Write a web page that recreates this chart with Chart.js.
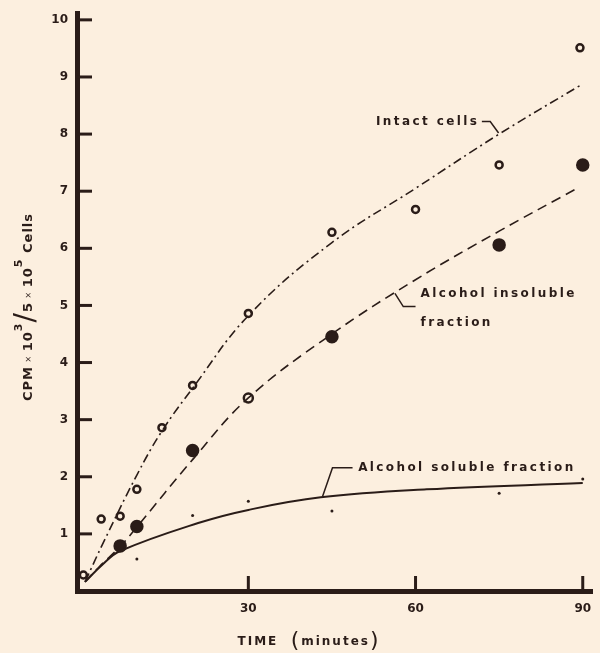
<!DOCTYPE html>
<html>
<head>
<meta charset="utf-8">
<script src="https://cdn.jsdelivr.net/npm/chart.js@4.4.1/dist/chart.umd.min.js"></script>
<style>
  html, body { margin: 0; padding: 0; background: #fcefdf; }
  #wrap { width: 600px; height: 653px; }
</style>
</head>
<body>
<div id="wrap"><canvas id="uptakeChart"></canvas></div>
<script>
// measured points (time in minutes, CPM x10^3 per 5x10^5 cells)
const intactTime = [0.4, 3.6, 7, 10, 14.5, 20, 30, 45, 60, 75, 89.5];
const intactCpm  = [0.28, 1.26, 1.31, 1.78, 2.86, 3.6, 4.86, 6.28, 6.68, 7.46, 9.51];
const insolTime  = [7, 10, 20, 30, 45, 75, 90];
const insolCpm   = [0.79, 1.13, 2.46, 3.38, 4.45, 6.06, 7.46];
const solTime    = [10, 20, 30, 45, 75, 90];
const solCpm     = [0.56, 1.32, 1.57, 1.40, 1.71, 1.96];

// hand-drawn curves
const intactFitTime = [0.7, 4, 10, 14.5, 20, 30, 45, 60, 75, 89.5];
const intactFitCpm  = [0.16, 0.85, 2.03, 2.8, 3.55, 4.82, 6.1, 7.05, 8.0, 8.85];
const insolFitTime  = [0.7, 3.3, 7, 10, 20, 30, 45, 60, 75, 89];
const insolFitCpm   = [0.16, 0.43, 0.78, 1.12, 2.3, 3.38, 4.5, 5.45, 6.3, 7.05];
const solFitTime    = [0.7, 3.9, 7, 21, 30, 43, 62, 90];
const solFitCpm     = [0.16, 0.47, 0.7, 1.19, 1.42, 1.64, 1.78, 1.89];

const xTickValues = [30, 60, 90];
const yTickValues = [1, 2, 3, 4, 5, 6, 7, 8, 9, 10];

const ink = '#2a1c18';
const paper = '#fcefdf';

function pairs(xs, ys) {
    return xs.map((x, i) => ({ x: x, y: ys[i] }));
}

// annotation labels, placed in data units
const notes = [
    { lines: ['Intact cells'], x: 52.9, y: 8.22,
      leader: [[71.9, 8.22], [73.4, 8.22], [74.9, 8.02]] },
    { lines: ['Alcohol insoluble', 'fraction'], x: 60.9, y: 5.2,
      leader: [[60.0, 4.98], [57.8, 4.98], [56.3, 5.21]] },
    { lines: ['Alcohol soluble fraction'], x: 49.7, y: 2.16,
      leader: [[48.7, 2.16], [45.1, 2.16], [43.3, 1.65]] }
];

const font = '"DejaVu Sans", sans-serif';

function drawPieces(ctx, pieces, spacing) {
    // draws text pieces left to right, centred on the origin
    let total = 0;
    pieces.forEach(p => { ctx.font = p.f; ctx.letterSpacing = spacing; p.w = ctx.measureText(p.t).width; total += p.w; });
    let x = -total / 2;
    pieces.forEach(p => {
        ctx.font = p.f;
        ctx.letterSpacing = spacing;
        ctx.fillText(p.t, x, p.dy || 0);
        x += p.w;
    });
}

const paperPlugin = {
    id: 'paperPlugin',
    beforeDraw(chart) {
        const ctx = chart.ctx;
        ctx.save();
        ctx.fillStyle = paper;
        ctx.fillRect(0, 0, chart.width, chart.height);
        ctx.restore();
    },
    afterDraw(chart) {
        const ctx = chart.ctx;
        const ca = chart.chartArea;
        const xs = chart.scales.x;
        const ys = chart.scales.y;
        ctx.save();
        ctx.strokeStyle = ink;
        ctx.fillStyle = ink;

        // inward tick marks
        ctx.lineWidth = 3;
        ys.ticks.forEach(t => {
            const py = ys.getPixelForValue(t.value);
            ctx.beginPath();
            ctx.moveTo(ca.left, py);
            ctx.lineTo(ca.left + 15, py);
            ctx.stroke();
        });
        xs.ticks.forEach(t => {
            const px = xs.getPixelForValue(t.value);
            ctx.beginPath();
            ctx.moveTo(px, ca.bottom);
            ctx.lineTo(px, ca.bottom - 15);
            ctx.stroke();
        });

        // annotations
        ctx.textBaseline = 'middle';
        ctx.textAlign = 'left';
        notes.forEach(n => {
            ctx.font = 'bold 12px ' + font;
            ctx.letterSpacing = '2.4px';
            n.lines.forEach((line, i) => {
                ctx.fillText(line, xs.getPixelForValue(n.x), ys.getPixelForValue(n.y) + i * 29);
            });
            ctx.lineWidth = 1.5;
            ctx.beginPath();
            n.leader.forEach((p, i) => {
                const px = xs.getPixelForValue(p[0]);
                const py = ys.getPixelForValue(p[1]);
                if (i === 0) ctx.moveTo(px, py); else ctx.lineTo(px, py);
            });
            ctx.stroke();
        });

        // y title
        ctx.save();
        ctx.translate(29, 307);
        ctx.rotate(-Math.PI / 2);
        ctx.textAlign = 'left';
        drawPieces(ctx, [
            { t: 'CPM', f: 'bold 13px ' + font },
            { t: ' × ', f: '8px ' + font },
            { t: '10', f: 'bold 13px ' + font },
            { t: '3', f: 'bold 11px ' + font, dy: -10 },
            { t: '/', f: '28px ' + font, dy: -2 },
            { t: '5', f: 'bold 13px ' + font },
            { t: ' × ', f: '8px ' + font },
            { t: '10', f: 'bold 13px ' + font },
            { t: '5', f: 'bold 11px ' + font, dy: -10 },
            { t: ' Cells', f: 'bold 13px ' + font }
        ], '1px');
        ctx.restore();

        // x title
        ctx.save();
        ctx.translate(309, 642);
        ctx.textAlign = 'left';
        drawPieces(ctx, [
            { t: 'TIME  ', f: 'bold 12px ' + font },
            { t: '(', f: '22px ' + font, dy: -1 },
            { t: 'minutes', f: 'bold 12px ' + font },
            { t: ')', f: '22px ' + font, dy: -1 }
        ], '2px');
        ctx.restore();

        ctx.restore();
    }
};

const ctx = document.getElementById('uptakeChart').getContext('2d');

new Chart(ctx, {
    type: 'scatter',
    data: {
        datasets: [
            {
                label: 'Intact cells (curve)',
                data: pairs(intactFitTime, intactFitCpm),
                showLine: true,
                pointRadius: 0,
                borderColor: ink,
                borderWidth: 1.6,
                borderDash: [9, 4, 2, 4],
                tension: 0.4
            },
            {
                label: 'Alcohol insoluble fraction (curve)',
                data: pairs(insolFitTime, insolFitCpm),
                showLine: true,
                pointRadius: 0,
                borderColor: ink,
                borderWidth: 1.6,
                borderDash: [10, 6],
                tension: 0.4
            },
            {
                label: 'Alcohol soluble fraction (curve)',
                data: pairs(solFitTime, solFitCpm),
                showLine: true,
                pointRadius: 0,
                borderColor: ink,
                borderWidth: 2,
                tension: 0.4
            },
            {
                label: 'Intact cells',
                data: pairs(intactTime, intactCpm),
                pointRadius: 3.5,
                pointBorderWidth: 2.5,
                pointBorderColor: ink,
                pointBackgroundColor: paper
            },
            {
                label: 'Alcohol insoluble fraction',
                data: pairs(insolTime, insolCpm),
                // the 30 min point is printed as an open circle in the figure
                pointRadius: c => (c.raw && c.raw.x === 30) ? 4.5 : 5.5,
                pointBorderWidth: 2.5,
                pointBorderColor: ink,
                pointBackgroundColor: c => (c.raw && c.raw.x === 30) ? paper : ink
            },
            {
                label: 'Alcohol soluble fraction',
                data: pairs(solTime, solCpm),
                pointRadius: 1.5,
                pointBorderWidth: 0,
                pointBackgroundColor: ink
            }
        ]
    },
    options: {
        responsive: true,
        maintainAspectRatio: false,
        animation: false,
        events: [],
        layout: { padding: { top: 13, right: 0, bottom: 0, left: 0 } },
        plugins: {
            legend: { display: false },
            tooltip: { enabled: false }
        },
        scales: {
            x: {
                type: 'linear',
                min: -0.74,
                max: 91.66,
                afterBuildTicks: s => { s.ticks = xTickValues.map(v => ({ value: v })); },
                afterFit: s => { s.height = 62; s.paddingLeft = 0; s.paddingRight = 0; },
                grid: { drawOnChartArea: false, drawTicks: false },
                border: { display: true, color: ink, width: 5 },
                ticks: {
                    padding: 11,
                    color: ink,
                    font: { family: 'DejaVu Sans', size: 12, weight: 'bold' }
                }
            },
            y: {
                type: 'linear',
                min: 0,
                max: 10.12,
                afterBuildTicks: s => { s.ticks = yTickValues.map(v => ({ value: v })); },
                afterFit: s => { s.width = 77; s.paddingTop = 0; s.paddingBottom = 0; },
                grid: { drawOnChartArea: false, drawTicks: false },
                border: { display: true, color: ink, width: 5 },
                ticks: {
                    padding: 9,
                    color: ink,
                    font: { family: 'DejaVu Sans', size: 12, weight: 'bold' }
                }
            }
        }
    },
    plugins: [paperPlugin]
});
</script>
</body>
</html>
